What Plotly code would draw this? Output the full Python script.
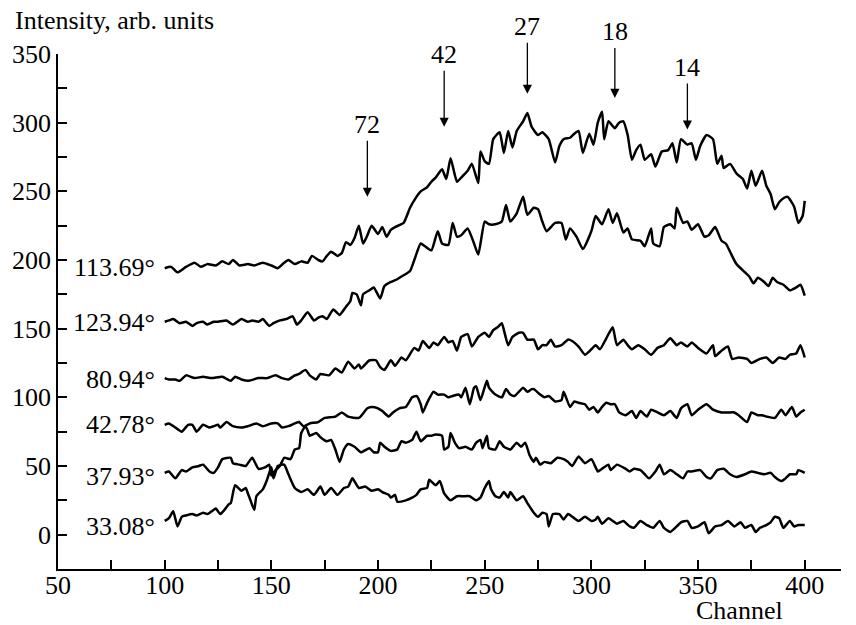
import plotly.graph_objects as go

# ---- data: (channel, intensity) ----
curve_113_69 = [(100,194),(103,195),(106,191),(110,195),(114,198),(117,195),(120,197),(124,196),(127,199),(130,197),(132,200),(135,196),(139,197),(142,196),(146,198),(150,196),(153,194),(156,198),(158,200),(161,197),(164,199),(167,198),(169,203),(172,200),(174,199),(176,203),(178,206),(181,203),(183,205),(185,213),(187,211),(189,216),(191,225),(193,212),(195,218),(197,225),(200,219),(202,224),(204,217),(206,222),(208,224),(212,227),(215,238),(218,246),(220,250),(223,253),(225,257),(227,260),(230,266),(232,259),(234,274),(237,257),(239,260),(242,265),(244,270),(247,256),(248,279),(250,272),(252,270),(254,288),(257,293),(259,278),(261,294),(263,282),(265,294),(268,301),(270,307),(272,297),(275,291),(277,293),(280,288),(283,271),(285,283),(287,288),(290,289),(292,292),(294,294),(296,278),(299,292),(301,284),(303,300),(305,308),(306,288),(308,301),(311,296),(313,300),(315,301),(317,291),(319,273),(321,280),(323,284),(325,273),(328,277),(330,268),(333,279),(336,280),(338,285),(340,271),(342,288),(345,284),(347,285),(349,273),(351,283),(354,291),(357,288),(359,270),(361,276),(362,267),(365,270),(368,263),(371,259),(373,252),(375,265),(377,254),(380,265),(382,254),(384,248),(386,237),(388,242),(390,245),(392,246),(395,239),(397,227),(399,232),(400,243)]

curve_123_94 = [(100,155),(102,156),(104,157),(107,154),(110,155),(113,152),(115,154),(118,155),(120,153),(123,155),(125,155),(129,156),(132,153),(136,157),(139,155),(141,156),(144,155),(146,157),(149,152),(151,154),(154,156),(157,157),(160,159),(162,153),(164,156),(167,162),(170,156),(172,158),(174,159),(176,157),(179,164),(182,160),(185,166),(187,170),(188,176),(190,175),(192,167),(193,175),(196,178),(198,180),(201,172),(203,181),(206,184),(209,186),(211,188),(215,192),(217,200),(220,212),(222,210),(225,207),(228,221),(230,212),(233,211),(235,227),(237,217),(239,218),(242,223),(245,212),(247,204),(250,228),(252,226),(255,226),(258,228),(260,240),(262,228),(265,234),(268,246),(270,233),(273,238),(275,237),(277,228),(279,221),(283,227),(286,227),(288,215),(290,223),(293,217),(296,208),(300,221),(302,232),(305,226),(308,237),(310,227),(312,234),(315,220),(317,223),(319,215),(323,214),(325,210),(328,223),(329,212),(332,210),(334,224),(337,226),(339,223),(340,238),(343,227),(345,228),(347,222),(350,226),(353,217),(355,218),(358,224),(361,214),(363,212),(365,206),(368,197),(372,191),(374,188),(376,183),(378,187),(381,184),(383,181),(385,187),(387,184),(390,182),(393,178),(396,180),(398,182),(400,174)]

curve_80_94 = [(100,114),(102,113),(105,113),(107,112),(110,116),(114,114),(118,115),(122,114),(127,115),(131,112),(133,115),(136,113),(139,112),(144,114),(148,114),(152,116),(155,114),(158,113),(161,116),(163,117),(166,120),(168,116),(171,113),(173,117),(177,116),(180,121),(183,118),(186,126),(189,121),(191,124),(192,121),(196,127),(199,127),(201,122),(203,120),(206,127),(208,123),(211,129),(213,127),(217,136),(219,134),(221,141),(224,136),(226,140),(228,138),(231,144),(233,140),(235,141),(237,134),(239,144),(242,146),(244,137),(247,144),(250,147),(252,144),(254,149),(256,151),(258,154),(259,149),(261,138),(263,144),(266,147),(268,147),(270,142),(273,142),(275,135),(277,138),(279,138),(281,142),(283,137),(286,138),(289,142),(291,141),(294,137),(297,131),(300,135),(302,138),(304,135),(307,143),(310,151),(312,138),(315,142),(317,138),(319,135),(322,138),(325,135),(328,131),(331,136),(334,138),(337,143),(340,138),(342,140),(345,137),(347,140),(350,136),(354,132),(357,138),(358,130),(361,134),(364,137),(366,128),(369,129),(373,128),(375,125),(379,128),(382,129),(385,125),(388,129),(391,128),(393,131),(396,132),(398,138),(400,129)]

curve_42_78 = [(100,80),(102,81),(105,78),(108,75),(111,80),(113,80),(115,75),(118,80),(121,78),(123,79),(125,80),(126,78),(129,82),(132,79),(136,78),(139,79),(143,81),(146,79),(150,81),(153,81),(155,78),(158,79),(161,81),(163,82),(165,79),(168,81),(172,82),(175,85),(180,86),(183,89),(186,86),(191,85),(195,92),(197,93),(200,92),(202,90),(205,86),(207,89),(210,92),(213,93),(216,100),(218,101),(220,95),(221,89),(223,96),(226,104),(228,102),(231,102),(233,100),(235,101),(238,102),(239,100),(241,107),(243,95),(245,107),(246,108),(248,98),(251,112),(252,107),(255,102),(258,100),(260,106),(262,102),(264,101),(268,107),(270,104),(272,106),(273,106),(276,102),(278,100),(280,101),(283,97),(286,98),(287,104),(290,93),(292,97),(294,96),(297,95),(299,91),(301,93),(303,89),(305,93),(307,96),(309,95),(311,95),(313,89),(316,87),(319,90),(321,85),(323,90),(326,86),(328,91),(331,89),(334,87),(337,90),(340,85),(342,92),(345,95),(347,87),(350,91),(354,95),(357,91),(361,89),(364,89),(367,89),(369,87),(373,82),(375,89),(378,87),(380,87),(382,86),(386,85),(389,91),(391,87),(394,93),(396,86),(398,89),(400,91)]

curve_37_93 = [(100,45),(102,46),(105,41),(108,47),(110,46),(113,49),(116,50),(118,51),(121,46),(123,45),(125,49),(127,55),(131,56),(132,52),(135,51),(138,50),(141,56),(144,48),(147,49),(149,51),(150,43),(152,47),(154,50),(156,56),(159,55),(161,62),(163,63),(164,74),(166,79),(167,76),(168,72),(171,74),(173,71),(176,68),(178,69),(180,62),(182,53),(184,62),(186,66),(189,64),(192,60),(196,63),(198,60),(200,60),(201,67),(203,64),(206,61),(209,62),(211,68),(213,67),(216,69),(218,75),(220,68),(223,72),(225,72),(227,73),(230,72),(231,62),(233,64),(234,74),(236,67),(238,63),(241,64),(244,62),(246,67),(248,69),(249,63),(251,72),(252,63),(255,62),(257,68),(259,64),(262,62),(265,67),(267,64),(269,67),(271,58),(273,53),(274,56),(276,51),(278,53),(281,52),(284,56),(287,55),(289,53),(291,50),(294,57),(297,52),(300,55),(302,49),(303,46),(305,48),(308,51),(309,47),(312,51),(316,48),(318,46),(320,48),(323,47),(325,44),(327,41),(330,46),(332,51),(334,44),(337,47),(340,44),(343,41),(345,46),(347,46),(351,47),(354,42),(356,41),(359,47),(362,48),(365,44),(368,42),(372,44),(375,46),(378,45),(381,44),(384,45),(386,42),(389,39),(391,41),(393,44),(396,44),(397,47),(400,45)]

curve_33_08 = [(100,10),(102,12),(104,17),(106,6),(108,13),(110,14),(113,15),(115,14),(118,16),(120,15),(122,17),(124,19),(126,15),(128,18),(130,22),(131,23),(133,36),(136,32),(138,34),(139,30),(140,26),(142,18),(143,28),(146,33),(148,40),(150,49),(151,41),(153,50),(156,51),(158,44),(161,34),(164,31),(167,33),(170,29),(173,35),(175,29),(178,34),(181,29),(184,34),(186,35),(188,41),(191,34),(194,35),(197,32),(200,33),(202,31),(205,29),(206,27),(208,29),(209,24),(213,25),(216,27),(218,29),(220,33),(223,34),(224,40),(227,36),(229,39),(231,30),(234,25),(237,28),(240,28),(243,28),(246,25),(248,27),(250,34),(252,39),(253,33),(255,28),(257,27),(259,31),(261,27),(262,31),(265,25),(268,28),(270,23),(273,16),(275,13),(277,16),(279,15),(280,6),(282,15),(285,15),(287,11),(289,15),(292,12),(294,10),(297,13),(300,10),(302,11),(303,13),(305,8),(308,12),(310,10),(312,8),(315,10),(318,6),(320,5),(323,10),(326,7),(329,5),(332,10),(334,5),(337,2),(340,6),(342,9),(345,10),(347,5),(350,6),(353,9),(355,1),(358,6),(361,7),(364,10),(367,6),(370,9),(372,5),(375,7),(377,2),(379,5),(382,7),(384,9),(386,13),(388,12),(390,5),(393,10),(395,6),(397,7),(400,7)]

curves = [curve_113_69, curve_123_94, curve_80_94, curve_42_78, curve_37_93, curve_33_08]
curve_labels = ["113.69°", "123.94°", "80.94°", "42.78°", "37.93°", "33.08°"]

# arrows marking peaks
arrow_labels = ["72", "42", "27", "18", "14"]
arrow_channels = [195, 231, 270, 311, 345]
arrow_tips = [246, 297, 321, 318, 295]

x_ticks = [50, 100, 150, 200, 250, 300, 350, 400]
y_ticks = [0, 50, 100, 150, 200, 250, 300, 350]

# ---- layout constants ----
FONT = "Liberation Serif, Times New Roman, serif"
FS = 26
label_y = [194.5, 154.4, 112.9, 80.1, 42.2, 5.8]
label_x = 96.6
arrow_offsets = [-72, -72, -67, -66, -62]

fig = go.Figure()
for pts in curves:
    xs = [p[0] for p in pts]
    ys = [p[1] for p in pts]
    fig.add_trace(go.Scatter(x=xs, y=ys, mode="lines",
                             line=dict(color="black", width=2.5,
                                       shape="spline", smoothing=0.5),
                             hoverinfo="skip", showlegend=False))

annotations = []
for lab, ly in zip(curve_labels, label_y):
    annotations.append(dict(x=label_x, y=ly, xref="x", yref="y", text=lab,
                            showarrow=False, xanchor="right", yanchor="middle",
                            font=dict(family=FONT, size=FS, color="black")))
for lab, cx, tip, off in zip(arrow_labels, arrow_channels, arrow_tips, arrow_offsets):
    annotations.append(dict(x=cx, y=tip, xref="x", yref="y", text=lab,
                            showarrow=True, ax=0, ay=off, arrowhead=2,
                            arrowsize=1.4, arrowwidth=1.3, arrowcolor="black",
                            font=dict(family=FONT, size=FS, color="black")))
annotations.append(dict(x=-0.057, y=1.066, xref="paper", yref="paper",
                        text="Intensity, arb. units", showarrow=False,
                        xanchor="left", yanchor="middle",
                        font=dict(family=FONT, size=FS, color="black")))
annotations.append(dict(x=0.927, y=-0.08, xref="paper", yref="paper",
                        text="Channel", showarrow=False, borderpad=0,
                        xanchor="right", yanchor="middle",
                        font=dict(family=FONT, size=FS, color="black")))

axis_common = dict(showline=True, linecolor="black", linewidth=1.5,
                   ticks="inside", ticklen=9, tickwidth=1.5, tickcolor="black",
                   showgrid=False, zeroline=False,
                   tickfont=dict(family=FONT, size=FS, color="black"),
                   minor=dict(dtick=25, tick0=0, ticks="inside", ticklen=9,
                              tickwidth=1.5, tickcolor="black", showgrid=False))

fig.update_layout(
    width=856, height=625,
    margin=dict(l=56, r=15, t=54, b=56),
    plot_bgcolor="white", paper_bgcolor="white",
    showlegend=False,
    font=dict(family=FONT, size=FS, color="black"),
    xaxis=dict(range=[50, 417], tickmode="array", tickvals=x_ticks,
               ticklabelstandoff=-8, **axis_common),
    yaxis=dict(range=[-25, 350], tickmode="array", tickvals=y_ticks, **axis_common),
    annotations=annotations,
)

fig.write_html("out.html")
